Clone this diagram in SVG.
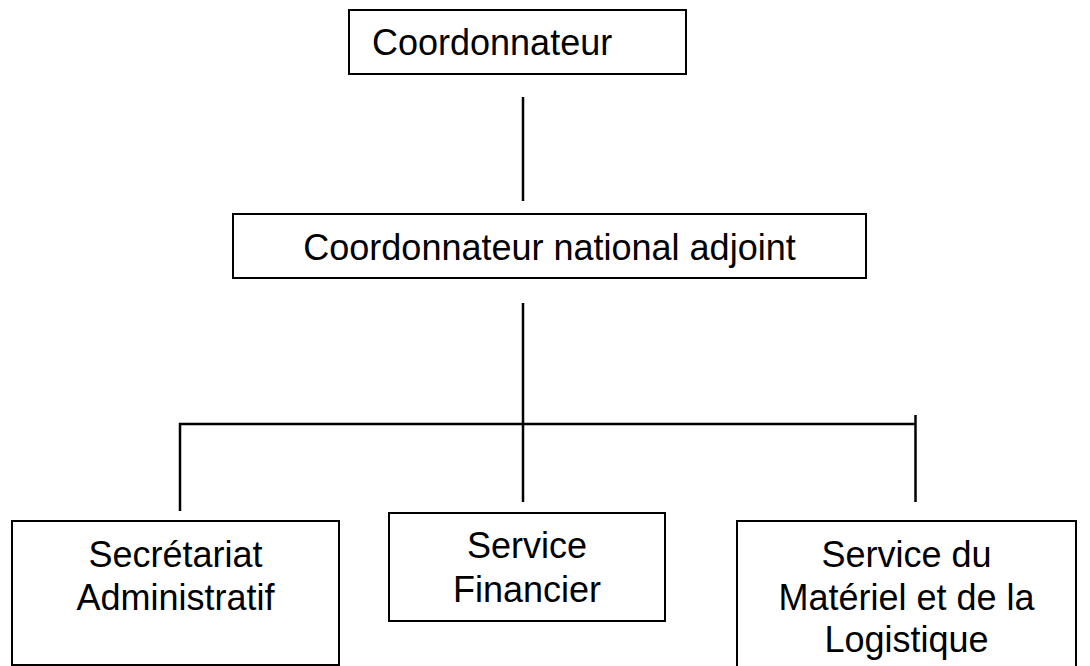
<svg xmlns="http://www.w3.org/2000/svg" width="1090" height="666" viewBox="0 0 1090 666">
<style>
.box{fill:#fff;stroke:#000;stroke-width:2}
.t{font-family:"Liberation Sans",Arial,sans-serif;font-size:36px;fill:#000}
.c{text-anchor:middle}
.ln{stroke:#000;stroke-width:2.5;fill:none}
</style>
<rect width="1090" height="666" fill="#fff"/>
<g id="connectors">
<line class="ln" x1="523" y1="97" x2="523" y2="201"/>
<line class="ln" x1="523" y1="303" x2="523" y2="502"/>
<line class="ln" x1="179" y1="424" x2="916" y2="424"/>
<line class="ln" x1="180" y1="423" x2="180" y2="511"/>
<line class="ln" x1="915.5" y1="415" x2="915.5" y2="502"/>
</g>
<g id="coordonnateur">
<rect class="box" x="349" y="10" width="337" height="64"/>
<text class="t" x="372" y="55">Coordonnateur</text>
</g>
<g id="adjoint">
<rect class="box" x="233" y="214" width="633" height="64"/>
<text class="t c" x="549.5" y="260">Coordonnateur national adjoint</text>
</g>
<g id="secretariat">
<rect class="box" x="12" y="521" width="327" height="144"/>
<text class="t c" x="175.5" y="567">Secrétariat</text>
<text class="t c" x="175.5" y="610">Administratif</text>
</g>
<g id="financier">
<rect class="box" x="389" y="513" width="276" height="108"/>
<text class="t c" x="527" y="558">Service</text>
<text class="t c" x="527" y="602">Financier</text>
</g>
<g id="materiel">
<rect class="box" x="737" y="521" width="339" height="150"/>
<text class="t c" x="906.5" y="567">Service du</text>
<text class="t c" x="906.5" y="610">Matériel et de la</text>
<text class="t c" x="906.5" y="652">Logistique</text>
</g>
</svg>
